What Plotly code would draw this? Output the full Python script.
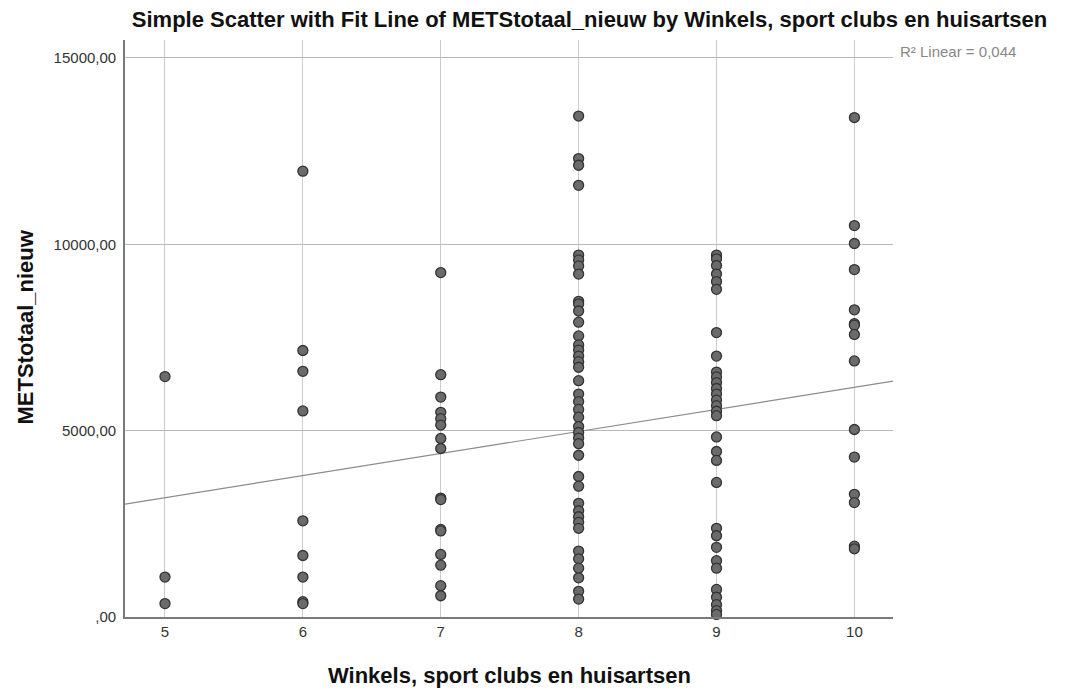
import plotly.graph_objects as go

# ---- data ----
x_categories = [5, 6, 7, 8, 9, 10]
mets_5 = [6450, 1070, 360]
mets_6 = [11960, 7150, 6590, 5530, 2580, 1650, 1070, 410, 360]
mets_7 = [9240, 6500, 5900, 5490, 5320, 5150, 4790, 4520, 3190, 3150, 2350, 2310,
          1680, 1390, 840, 570]
mets_8 = [13440, 12300, 12120, 11580, 9710, 9580, 9420, 9200, 8470, 8400, 8210, 7910,
          7540, 7300, 7160, 7000, 6850, 6700, 6340, 5980, 5780, 5570, 5360, 5110, 4950,
          4800, 4650, 4340, 3770, 3510, 3050, 2850, 2690, 2540, 2380, 1770, 1560, 1310,
          1050, 690, 480]
mets_9 = [9710, 9610, 9430, 9200, 9000, 8790, 7630, 7000, 6570, 6440, 6290, 6130, 5980,
          5820, 5670, 5520, 5400, 4830, 4440, 4200, 3610, 2380, 2180, 1870, 1510, 1310,
          740, 530, 330, 170, 70]
mets_10 = [13400, 10500, 10020, 9320, 8240, 7870, 7830, 7580, 6870, 5030, 4290, 3290,
           3070, 1900, 1830]
groups = [mets_5, mets_6, mets_7, mets_8, mets_9, mets_10]

fit_intercept = 242.0
fit_slope = 592.0
r2_label = "R² Linear = 0,044"

y_tick_vals = [0, 5000, 10000, 15000]
y_tick_text = [",00", "5000,00", "10000,00", "15000,00"]

x_range = [4.71, 10.28]
y_range = [0, 15480]

xs, ys = [], []
for cat, vals in zip(x_categories, groups):
    xs += [cat] * len(vals)
    ys += vals

fit_x = x_range
fit_y = [fit_intercept + fit_slope * v for v in fit_x]

FONT = "Liberation Sans, Arial, sans-serif"

fig = go.Figure()
fig.add_trace(go.Scatter(
    x=fit_x, y=fit_y, mode="lines",
    line=dict(color="#8c8c8c", width=1.2),
    hoverinfo="skip", showlegend=False,
))
fig.add_trace(go.Scatter(
    x=xs, y=ys, mode="markers",
    marker=dict(size=10, color="#6b6b6b", line=dict(color="#333333", width=1.3)),
    showlegend=False, cliponaxis=False,
))

fig.update_layout(
    width=1067, height=693,
    margin=dict(l=117, r=182, t=32, b=84),
    paper_bgcolor="white", plot_bgcolor="white",
    font=dict(family=FONT, color="#222222"),
    title=dict(
        text="<b>Simple Scatter with Fit Line of METStotaal_nieuw by Winkels, sport clubs en huisartsen</b>",
        x=0.545, xanchor="center", y=1 - 11 / 693, yanchor="middle",
        xref="container", yref="container",
        font=dict(size=22, family=FONT, color="#111111"),
    ),
    xaxis=dict(
        range=x_range, tickvals=x_categories, ticktext=[str(c) for c in x_categories],
        showgrid=True, gridcolor="#cccccc", gridwidth=1.2,
        showline=True, linecolor="#7a7a7a", linewidth=1.6,
        zeroline=False, ticks="", tickfont=dict(size=15, color="#333333"),
        fixedrange=True,
    ),
    yaxis=dict(
        range=y_range, tickvals=y_tick_vals, ticktext=y_tick_text,
        showgrid=True, gridcolor="#b8b8b8", gridwidth=1.2,
        showline=True, linecolor="#7a7a7a", linewidth=1.6,
        zeroline=False, ticks="", tickfont=dict(size=15, color="#333333"),
        ticklabelstandoff=4,
        fixedrange=True,
    ),
    annotations=[
        dict(text="<b>METStotaal_nieuw</b>", xref="paper", yref="paper",
             x=-0.130, y=0.502, xanchor="center", yanchor="middle", textangle=-90,
             showarrow=False, font=dict(size=22, family=FONT, color="#111111")),
        dict(text="<b>Winkels, sport clubs en huisartsen</b>", xref="paper", yref="paper",
             x=0.501, y=-0.102, xanchor="center", yanchor="middle",
             showarrow=False, font=dict(size=22, family=FONT, color="#111111")),
        dict(text=r2_label, xref="paper", yref="y", x=1.007, y=15160,
             xanchor="left", yanchor="middle", showarrow=False,
             font=dict(size=15, family=FONT, color="#888888")),
    ],
)

fig.write_html("out.html")
